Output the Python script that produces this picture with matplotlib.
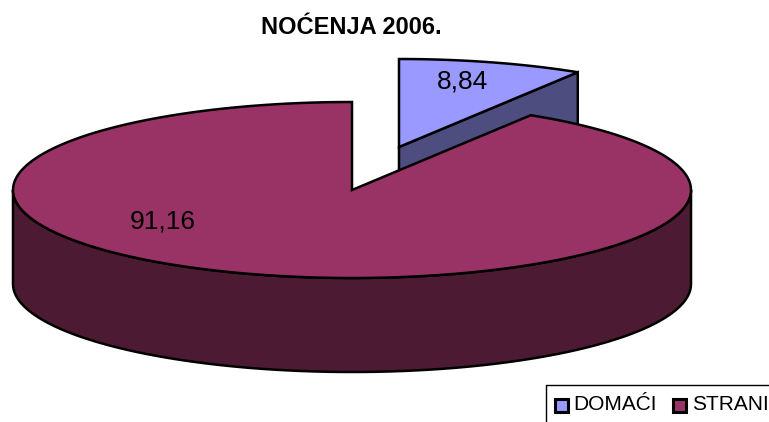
import numpy as np
import matplotlib
matplotlib.use("Agg")
import matplotlib.pyplot as plt
from matplotlib.patches import Polygon, Rectangle

title = "NOĆENJA 2006."
categories = ["DOMAĆI", "STRANI"]
values = [8.84, 91.16]
value_labels = ["8,84", "91,16"]
top_colors = ["#9999FF", "#993366"]
side_colors = ["#4D4D80", "#4D1A33"]

W, H = 769, 422
RX, RY, DEPTH = 339, 88, 94
BIG_CENTER = (352, 190)
SMALL_CENTER = (399, 147)
EDGE = "black"
LW = 1.8

plt.rcParams["font.family"] = ["Liberation Sans", "DejaVu Sans"]
fig = plt.figure(figsize=(W / 100, H / 100), dpi=100)
ax = fig.add_axes([0, 0, 1, 1])
ax.set_xlim(0, W)
ax.set_ylim(H, 0)
ax.axis("off")


def rim(center, a0, a1, n=300):
    """Ellipse arc; angles in degrees clockwise from 12 o'clock."""
    t = np.radians(np.linspace(a0, a1, n))
    return np.column_stack([center[0] + RX * np.sin(t), center[1] - RY * np.cos(t)])


def poly(points, color, z):
    ax.add_patch(Polygon(points, closed=True, facecolor=color, edgecolor=EDGE,
                         linewidth=LW, joinstyle="miter", zorder=z))


split = 360 * values[0] / sum(values)

# exploded small slice: cut face, outer wall, then top
cx, cy = SMALL_CENTER
end = rim(SMALL_CENTER, split, split, 1)[0]
poly([(cx, cy), end, (end[0], end[1] + DEPTH), (cx, cy + DEPTH)], side_colors[0], 1)
poly(np.vstack([[(cx, cy)], rim(SMALL_CENTER, 0, split)]), top_colors[0], 2)

# large slice: the visible front wall, then top
wall = rim(BIG_CENTER, 90, 270)
poly(np.vstack([wall, (wall + [0, DEPTH])[::-1]]), side_colors[1], 3)
poly(np.vstack([[BIG_CENTER], rim(BIG_CENTER, split, 360)]), top_colors[1], 4)

ax.text(351.5, 28, title, ha="center", va="center", fontsize=17, fontweight="bold", zorder=6)
ax.text(463, 81, value_labels[0], ha="center", va="center", fontsize=19, zorder=6)
ax.text(163, 221, value_labels[1], ha="center", va="center", fontsize=19, zorder=6)

# legend frame runs off the right and bottom edge
ax.plot([545.5, 545.5, W + 5], [H + 5, 384.5, 384.5], color=EDGE, lw=1.0, zorder=5)
for x_box, x_txt, name, col in zip([554.5, 673], [573.5, 692], categories, top_colors):
    ax.add_patch(Rectangle((x_box, 399), 13, 13, facecolor=col, edgecolor=EDGE, linewidth=2.2, zorder=6))
    ax.text(x_txt, 405, name, ha="left", va="center", fontsize=15, zorder=6)

fig.savefig("out.png", dpi=100)
